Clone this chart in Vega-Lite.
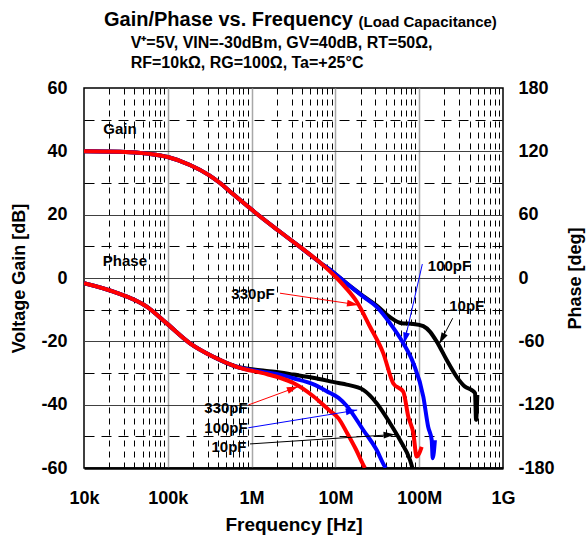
{
  "$schema": "https://vega.github.io/schema/vega-lite/v6.json",
  "width": 419,
  "height": 380,
  "autosize": {"type": "none"},
  "padding": {"left": 84, "top": 88, "right": 85, "bottom": 73},
  "background": "white",
  "config": {
    "font": "Liberation Sans",
    "view": {"stroke": "#000000", "strokeWidth": 1.5},
    "axis": {
      "labelFont": "Liberation Sans", "titleFont": "Liberation Sans",
      "labelColor": "#000000", "titleColor": "#000000",
      "labelFontWeight": "bold", "titleFontWeight": "bold",
      "labelFontSize": 18, "titleFontSize": 18
    },
    "text": {"font": "Liberation Sans"}
  },
  "title": {
    "text": "Gain/Phase vs. Frequency",
    "subtitle": ["\u200b\u00a0\u00a0\u00a0\u00a0\u00a0\u00a0V\u207a=5V, VIN=-30dBm, GV=40dB, RT=50\u03a9,", "\u200b\u00a0\u00a0\u00a0\u00a0\u00a0\u00a0RF=10k\u03a9, RG=100\u03a9, Ta=+25\u00b0C"],
    "anchor": "start",
    "frame": "group",
    "dx": 20,
    "offset": -57,
    "font": "Liberation Sans",
    "fontSize": 20,
    "fontWeight": "bold",
    "color": "#000000",
    "subtitleFont": "Liberation Sans",
    "subtitleFontSize": 16,
    "subtitleFontWeight": "bold",
    "subtitleColor": "#000000",
    "subtitlePadding": 5,
    "subtitleLineHeight": 20
  },
  "datasets": {
    "curves": [
      {"kind":"gain","cap":"10pF","freq":10000,"value":40.0},
      {"kind":"gain","cap":"10pF","freq":26900,"value":39.9},
      {"kind":"gain","cap":"10pF","freq":61400,"value":39.2},
      {"kind":"gain","cap":"10pF","freq":100000,"value":38.2},
      {"kind":"gain","cap":"10pF","freq":184000,"value":35.7},
      {"kind":"gain","cap":"10pF","freq":310000,"value":32.5},
      {"kind":"gain","cap":"10pF","freq":420000,"value":30.0},
      {"kind":"gain","cap":"10pF","freq":600000,"value":26.5},
      {"kind":"gain","cap":"10pF","freq":1150000,"value":20.3},
      {"kind":"gain","cap":"10pF","freq":2180000,"value":14.6},
      {"kind":"gain","cap":"10pF","freq":3780000,"value":9.8},
      {"kind":"gain","cap":"10pF","freq":6550000,"value":4.9},
      {"kind":"gain","cap":"10pF","freq":9350000,"value":1.9},
      {"kind":"gain","cap":"10pF","freq":13600000,"value":-1.7},
      {"kind":"gain","cap":"10pF","freq":21500000,"value":-5.7},
      {"kind":"gain","cap":"10pF","freq":31100000,"value":-8.7},
      {"kind":"gain","cap":"10pF","freq":44900000,"value":-12.4},
      {"kind":"gain","cap":"10pF","freq":61600000,"value":-14.3},
      {"kind":"gain","cap":"10pF","freq":85100000,"value":-14.5},
      {"kind":"gain","cap":"10pF","freq":112000000,"value":-15.2},
      {"kind":"gain","cap":"10pF","freq":135000000,"value":-17.0},
      {"kind":"gain","cap":"10pF","freq":162000000,"value":-20.1},
      {"kind":"gain","cap":"10pF","freq":213000000,"value":-25.9},
      {"kind":"gain","cap":"10pF","freq":280000000,"value":-31.2},
      {"kind":"gain","cap":"10pF","freq":352000000,"value":-34.3},
      {"kind":"gain","cap":"10pF","freq":424000000,"value":-35.4},
      {"kind":"gain","cap":"10pF","freq":464000000,"value":-36.4},
      {"kind":"gain","cap":"10pF","freq":477000000,"value":-44.8},
      {"kind":"gain","cap":"10pF","freq":494000000,"value":-36.9},

      {"kind":"gain","cap":"100pF","freq":10000,"value":40.0},
      {"kind":"gain","cap":"100pF","freq":26900,"value":39.9},
      {"kind":"gain","cap":"100pF","freq":61400,"value":39.2},
      {"kind":"gain","cap":"100pF","freq":100000,"value":38.2},
      {"kind":"gain","cap":"100pF","freq":184000,"value":35.7},
      {"kind":"gain","cap":"100pF","freq":310000,"value":32.5},
      {"kind":"gain","cap":"100pF","freq":420000,"value":30.0},
      {"kind":"gain","cap":"100pF","freq":600000,"value":26.5},
      {"kind":"gain","cap":"100pF","freq":1150000,"value":20.3},
      {"kind":"gain","cap":"100pF","freq":2180000,"value":14.6},
      {"kind":"gain","cap":"100pF","freq":3780000,"value":9.8},
      {"kind":"gain","cap":"100pF","freq":6550000,"value":4.9},
      {"kind":"gain","cap":"100pF","freq":9350000,"value":1.9},
      {"kind":"gain","cap":"100pF","freq":13600000,"value":-1.7},
      {"kind":"gain","cap":"100pF","freq":21500000,"value":-5.9},
      {"kind":"gain","cap":"100pF","freq":31100000,"value":-9.1},
      {"kind":"gain","cap":"100pF","freq":44900000,"value":-14.3},
      {"kind":"gain","cap":"100pF","freq":64600000,"value":-20.6},
      {"kind":"gain","cap":"100pF","freq":85100000,"value":-26.9},
      {"kind":"gain","cap":"100pF","freq":112000000,"value":-37.5},
      {"kind":"gain","cap":"100pF","freq":128000000,"value":-47.0},
      {"kind":"gain","cap":"100pF","freq":141000000,"value":-51.2},
      {"kind":"gain","cap":"100pF","freq":145000000,"value":-56.9},
      {"kind":"gain","cap":"100pF","freq":154000000,"value":-51.2},

      {"kind":"gain","cap":"330pF","freq":10000,"value":40.0},
      {"kind":"gain","cap":"330pF","freq":26900,"value":39.9},
      {"kind":"gain","cap":"330pF","freq":61400,"value":39.2},
      {"kind":"gain","cap":"330pF","freq":100000,"value":38.2},
      {"kind":"gain","cap":"330pF","freq":184000,"value":35.7},
      {"kind":"gain","cap":"330pF","freq":310000,"value":32.5},
      {"kind":"gain","cap":"330pF","freq":420000,"value":30.0},
      {"kind":"gain","cap":"330pF","freq":600000,"value":26.5},
      {"kind":"gain","cap":"330pF","freq":1150000,"value":20.3},
      {"kind":"gain","cap":"330pF","freq":2180000,"value":14.6},
      {"kind":"gain","cap":"330pF","freq":3780000,"value":9.8},
      {"kind":"gain","cap":"330pF","freq":6550000,"value":4.9},
      {"kind":"gain","cap":"330pF","freq":10400000,"value":0.0},
      {"kind":"gain","cap":"330pF","freq":13000000,"value":-2.8},
      {"kind":"gain","cap":"330pF","freq":18000000,"value":-7.5},
      {"kind":"gain","cap":"330pF","freq":25900000,"value":-15.4},
      {"kind":"gain","cap":"330pF","freq":37300000,"value":-23.8},
      {"kind":"gain","cap":"330pF","freq":49100000,"value":-33.3},
      {"kind":"gain","cap":"330pF","freq":64600000,"value":-35.9},
      {"kind":"gain","cap":"330pF","freq":74100000,"value":-43.8},
      {"kind":"gain","cap":"330pF","freq":85100000,"value":-49.0},
      {"kind":"gain","cap":"330pF","freq":93300000,"value":-56.4},
      {"kind":"gain","cap":"330pF","freq":107000000,"value":-53.3},

      {"kind":"phase","cap":"10pF","freq":10000,"value":-5.0},
      {"kind":"phase","cap":"10pF","freq":22400,"value":-13.0},
      {"kind":"phase","cap":"10pF","freq":56000,"value":-27.2},
      {"kind":"phase","cap":"10pF","freq":97000,"value":-43.0},
      {"kind":"phase","cap":"10pF","freq":184000,"value":-61.9},
      {"kind":"phase","cap":"10pF","freq":349000,"value":-74.6},
      {"kind":"phase","cap":"10pF","freq":663000,"value":-84.1},
      {"kind":"phase","cap":"10pF","freq":1510000,"value":-88.0},
      {"kind":"phase","cap":"10pF","freq":2180000,"value":-89.5},
      {"kind":"phase","cap":"10pF","freq":3150000,"value":-91.5},
      {"kind":"phase","cap":"10pF","freq":5400000,"value":-94.5},
      {"kind":"phase","cap":"10pF","freq":10900000,"value":-99.5},
      {"kind":"phase","cap":"10pF","freq":13600000,"value":-101.0},
      {"kind":"phase","cap":"10pF","freq":21500000,"value":-106.0},
      {"kind":"phase","cap":"10pF","freq":31100000,"value":-118.7},
      {"kind":"phase","cap":"10pF","freq":44900000,"value":-137.6},
      {"kind":"phase","cap":"10pF","freq":59000000,"value":-153.5},
      {"kind":"phase","cap":"10pF","freq":77600000,"value":-172.4},
      {"kind":"phase","cap":"10pF","freq":83000000,"value":-180.0},

      {"kind":"phase","cap":"100pF","freq":10000,"value":-5.0},
      {"kind":"phase","cap":"100pF","freq":22400,"value":-13.0},
      {"kind":"phase","cap":"100pF","freq":56000,"value":-27.2},
      {"kind":"phase","cap":"100pF","freq":97000,"value":-43.0},
      {"kind":"phase","cap":"100pF","freq":184000,"value":-61.9},
      {"kind":"phase","cap":"100pF","freq":349000,"value":-74.6},
      {"kind":"phase","cap":"100pF","freq":663000,"value":-84.1},
      {"kind":"phase","cap":"100pF","freq":1510000,"value":-89.5},
      {"kind":"phase","cap":"100pF","freq":2180000,"value":-91.5},
      {"kind":"phase","cap":"100pF","freq":3150000,"value":-95.0},
      {"kind":"phase","cap":"100pF","freq":5400000,"value":-100.5},
      {"kind":"phase","cap":"100pF","freq":8630000,"value":-109.0},
      {"kind":"phase","cap":"100pF","freq":10900000,"value":-113.5},
      {"kind":"phase","cap":"100pF","freq":13600000,"value":-121.0},
      {"kind":"phase","cap":"100pF","freq":21500000,"value":-144.0},
      {"kind":"phase","cap":"100pF","freq":31100000,"value":-163.0},
      {"kind":"phase","cap":"100pF","freq":39000000,"value":-178.8},
      {"kind":"phase","cap":"100pF","freq":40000000,"value":-180.0},

      {"kind":"phase","cap":"330pF","freq":10000,"value":-5.0},
      {"kind":"phase","cap":"330pF","freq":22400,"value":-13.0},
      {"kind":"phase","cap":"330pF","freq":56000,"value":-27.2},
      {"kind":"phase","cap":"330pF","freq":97000,"value":-43.0},
      {"kind":"phase","cap":"330pF","freq":184000,"value":-61.9},
      {"kind":"phase","cap":"330pF","freq":349000,"value":-74.6},
      {"kind":"phase","cap":"330pF","freq":663000,"value":-84.1},
      {"kind":"phase","cap":"330pF","freq":1510000,"value":-91.0},
      {"kind":"phase","cap":"330pF","freq":2180000,"value":-94.5},
      {"kind":"phase","cap":"330pF","freq":3150000,"value":-99.5},
      {"kind":"phase","cap":"330pF","freq":5450000,"value":-112.0},
      {"kind":"phase","cap":"330pF","freq":8630000,"value":-126.0},
      {"kind":"phase","cap":"330pF","freq":10900000,"value":-133.0},
      {"kind":"phase","cap":"330pF","freq":13600000,"value":-146.0},
      {"kind":"phase","cap":"330pF","freq":17500000,"value":-162.0},
      {"kind":"phase","cap":"330pF","freq":21500000,"value":-177.0},
      {"kind":"phase","cap":"330pF","freq":22500000,"value":-180.0}
    ],
    "labels": [
      {"text":"Gain","freq":26900,"value":47.0},
      {"text":"Phase","freq":30800,"value":5.4},
      {"text":"330pF","freq":1040000,"value":-5.0},
      {"text":"100pF","freq":230000000,"value":3.8},
      {"text":"10pF","freq":369000000,"value":-8.8},
      {"text":"330pF","freq":495000,"value":-41.0},
      {"text":"100pF","freq":495000,"value":-47.4},
      {"text":"10pF","freq":537000,"value":-53.5}
    ],
    "arrows": [
      {"cap":"330pF","f1":2180000,"g1":-4.8,"f2":18800000,"g2":-8.5},
      {"cap":"100pF","f1":109000000,"g1":4.4,"f2":65900000,"g2":-20.8},
      {"cap":"10pF","f1":251000000,"g1":-12.7,"f2":174000000,"g2":-20.8},
      {"cap":"330pF","f1":914000,"g1":-40.1,"f2":3600000,"g2":-34.3},
      {"cap":"100pF","f1":914000,"g1":-47.3,"f2":18200000,"g2":-41.7},
      {"cap":"10pF","f1":957000,"g1":-52.4,"f2":51400000,"g2":-49.4}
    ]
  },
  "resolve": {"scale": {"y": "independent"}, "axis": {"x": "independent", "y": "independent"}},
  "layer": [
    {
      "data": {"name": "curves"},
      "transform": [{"filter": "datum.kind == 'gain'"}],
      "mark": {"type": "line", "strokeWidth": 4, "clip": true, "interpolate": "monotone"},
      "encoding": {
        "x": {
          "field": "freq", "type": "quantitative",
          "scale": {"type": "log", "domain": [10000, 1000000000], "nice": false},
          "axis": {
            "orient": "bottom",
            "values": [10000,20000,30000,40000,50000,60000,70000,80000,90000,100000,200000,300000,400000,500000,600000,700000,800000,900000,1000000,2000000,3000000,4000000,5000000,6000000,7000000,8000000,9000000,10000000,20000000,30000000,40000000,50000000,60000000,70000000,80000000,90000000,100000000,200000000,300000000,400000000,500000000,600000000,700000000,800000000,900000000,1000000000],
            "grid": true,
            "gridColor": {"condition": {"test": "indexof([100000,1000000,10000000,100000000], datum.value) >= 0", "value": "#a8a8a8"}, "value": "#000000"},
            "gridDash": {"condition": {"test": "indexof([100000,1000000,10000000,100000000], datum.value) >= 0", "value": []}, "value": [6, 5]},
            "gridWidth": {"condition": {"test": "indexof([100000,1000000,10000000,100000000], datum.value) >= 0", "value": 1.5}, "value": 1},
            "gridOpacity": {"condition": {"test": "datum.value == 10000 || datum.value == 1000000000", "value": 0}, "value": 1},
            "labelExpr": "datum.value == 10000 ? '10k' : datum.value == 100000 ? '100k' : datum.value == 1000000 ? '1M' : datum.value == 10000000 ? '10M' : datum.value == 100000000 ? '100M' : datum.value == 1000000000 ? '1G' : ''",
            "labelOverlap": false,
            "labelFlush": false,
            "labelBound": false,
            "ticks": false,
            "domain": true,
            "domainColor": "#000000",
            "domainWidth": 2.5,
            "labelPadding": 21,
            "title": "Frequency [Hz]",
            "titleFontSize": 19,
            "titlePadding": 8
          }
        },
        "y": {
          "field": "value", "type": "quantitative",
          "scale": {"domain": [-60, 60], "nice": false, "zero": false},
          "axis": {
            "orient": "left",
            "values": [-60,-50,-40,-30,-20,-10,0,10,20,30,40,50,60],
            "grid": true,
            "gridColor": {"condition": {"test": "datum.value % 20 == 0", "value": "#404040"}, "value": "#000000"},
            "gridDash": {"condition": {"test": "datum.value % 20 == 0", "value": []}, "value": [10, 7]},
            "gridOpacity": {"condition": {"test": "abs(datum.value) == 60", "value": 0}, "value": 1},
            "labelExpr": "datum.value % 20 == 0 ? '' + datum.value : ''",
            "labelOverlap": false,
            "ticks": false,
            "domain": false,
            "labelPadding": 17,
            "title": "Voltage Gain [dB]",
            "titlePadding": 12
          }
        },
        "color": {"field": "cap", "type": "nominal", "scale": {"domain": ["10pF", "100pF", "330pF"], "range": ["#000000", "#0000ff", "#ff0000"]}, "legend": null}
      }
    },
    {
      "data": {"name": "curves"},
      "transform": [{"filter": "datum.kind == 'phase'"}],
      "mark": {"type": "line", "strokeWidth": 4, "clip": true, "interpolate": "monotone"},
      "encoding": {
        "x": {"field": "freq", "type": "quantitative", "scale": {"type": "log", "domain": [10000, 1000000000], "nice": false}, "axis": null},
        "y": {
          "field": "value", "type": "quantitative",
          "scale": {"domain": [-180, 180], "nice": false, "zero": false},
          "axis": {
            "orient": "right",
            "values": [-180,-120,-60,0,60,120,180],
            "labelExpr": "'' + datum.value",
            "grid": false, "ticks": false, "domain": false,
            "labelPadding": 15,
            "title": "Phase [deg]",
            "titleAngle": 270,
            "titlePadding": 30
          }
        },
        "color": {"field": "cap", "type": "nominal", "legend": null}
      }
    },
    {
      "data": {"name": "arrows"},
      "mark": {"type": "rule", "strokeWidth": 1},
      "encoding": {
        "x": {"field": "f1", "type": "quantitative", "scale": {"type": "log", "domain": [10000, 1000000000], "nice": false}, "axis": null},
        "x2": {"field": "f2"},
        "y": {"field": "g1", "type": "quantitative", "scale": {"domain": [-60, 60], "nice": false, "zero": false}, "axis": null},
        "y2": {"field": "g2"},
        "color": {"field": "cap", "type": "nominal", "legend": null}
      }
    },
    {
      "data": {"name": "arrows"},
      "transform": [{"calculate": "atan2(83.8*log(datum.f2/datum.f1)/LN10, 3.167*(datum.g2-datum.g1))*180/PI", "as": "heading"}],
      "mark": {"type": "point", "shape": "M0,0L0.6,2L-0.6,2Z", "filled": true, "opacity": 1, "strokeWidth": 0, "size": 130},
      "encoding": {
        "x": {"field": "f2", "type": "quantitative", "scale": {"type": "log", "domain": [10000, 1000000000], "nice": false}, "axis": null},
        "y": {"field": "g2", "type": "quantitative", "scale": {"domain": [-60, 60], "nice": false, "zero": false}, "axis": null},
        "angle": {"field": "heading", "type": "quantitative", "scale": null},
        "color": {"field": "cap", "type": "nominal", "legend": null}
      }
    },
    {
      "data": {"name": "labels"},
      "mark": {"type": "text", "fontSize": 15, "fontWeight": "bold", "font": "Liberation Sans", "color": "#000000", "align": "center", "baseline": "middle"},
      "encoding": {
        "x": {
          "field": "freq", "type": "quantitative",
          "scale": {"type": "log", "domain": [10000, 1000000000], "nice": false},
          "axis": {
            "orient": "top", "labels": false, "ticks": false, "domain": false, "grid": false,
            "values": [10000],
            "title": "(Load Capacitance)",
            "titleFontSize": 15,
            "titleX": 274, "titleY": -62,
            "titleAlign": "left", "titleAnchor": "start", "titleBaseline": "alphabetic", "titleAngle": 0
          }
        },
        "y": {"field": "value", "type": "quantitative", "scale": {"domain": [-60, 60], "nice": false, "zero": false}, "axis": null},
        "text": {"field": "text"}
      }
    }
  ]
}
